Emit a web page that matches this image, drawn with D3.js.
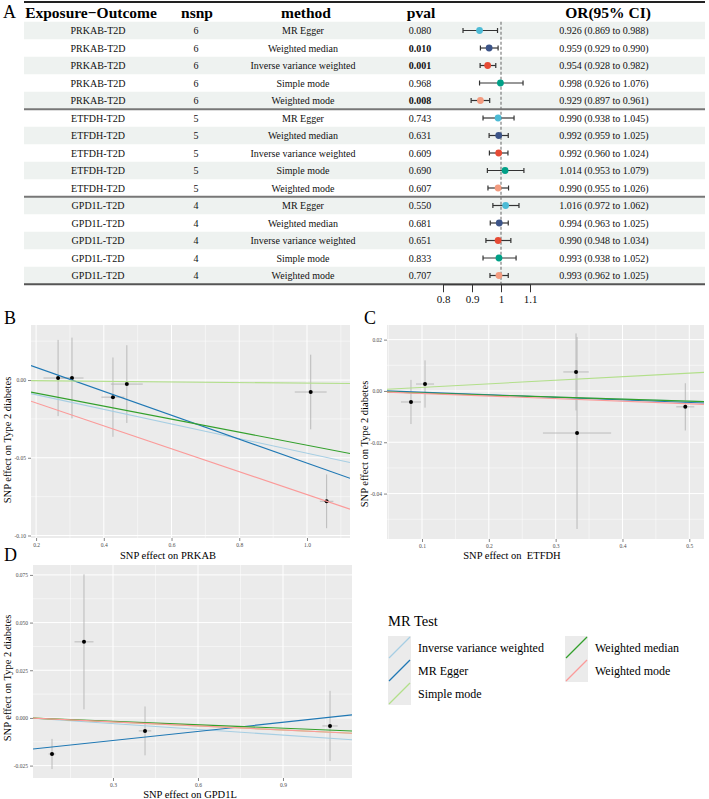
<!DOCTYPE html>
<html>
<head>
<meta charset="utf-8">
<script src="https://cdn.jsdelivr.net/npm/d3@7"></script>
<style>
  body { margin: 0; background: #fff; }
  svg { display: block; font-family: "Liberation Serif", "Times New Roman", serif; }
</style>
</head>
<body>
<svg id="fig" width="709" height="799"></svg>
<script>
'use strict';

// ---- panel A : forest table ----
const exposures = ['PRKAB-T2D', 'PRKAB-T2D', 'PRKAB-T2D', 'PRKAB-T2D', 'PRKAB-T2D',
    'ETFDH-T2D', 'ETFDH-T2D', 'ETFDH-T2D', 'ETFDH-T2D', 'ETFDH-T2D',
    'GPD1L-T2D', 'GPD1L-T2D', 'GPD1L-T2D', 'GPD1L-T2D', 'GPD1L-T2D']
const nsnp = [6, 6, 6, 6, 6, 5, 5, 5, 5, 5, 4, 4, 4, 4, 4]
const methods = ['MR Egger', 'Weighted median', 'Inverse variance weighted', 'Simple mode', 'Weighted mode',
    'MR Egger', 'Weighted median', 'Inverse variance weighted', 'Simple mode', 'Weighted mode',
    'MR Egger', 'Weighted median', 'Inverse variance weighted', 'Simple mode', 'Weighted mode']
const pvals = ['0.080', '0.010', '0.001', '0.968', '0.008',
    '0.743', '0.631', '0.609', '0.690', '0.607',
    '0.550', '0.681', '0.651', '0.833', '0.707']
const orEst = [0.926, 0.959, 0.954, 0.998, 0.929, 0.990, 0.992, 0.992, 1.014, 0.990, 1.016, 0.994, 0.990, 0.993, 0.993]
const orLow = [0.869, 0.929, 0.928, 0.926, 0.897, 0.938, 0.959, 0.960, 0.953, 0.955, 0.972, 0.963, 0.948, 0.938, 0.962]
const orHigh = [0.988, 0.990, 0.982, 1.076, 0.961, 1.045, 1.025, 1.024, 1.079, 1.026, 1.062, 1.025, 1.034, 1.052, 1.025]
const orTicks = [0.8, 0.9, 1, 1.1]
const forestColors = {
    'MR Egger': '#4DBBD5', 'Weighted median': '#3C5488', 'Inverse variance weighted': '#E64B35',
    'Simple mode': '#00A087', 'Weighted mode': '#F39B7F'
}

// ---- panels B-D : scatter plots ----
const mrMethods = ['Inverse variance weighted', 'MR Egger', 'Simple mode', 'Weighted median', 'Weighted mode']
const mrColors = ['#a6cee3', '#1f78b4', '#b2df8a', '#33a02c', '#fb9a99']

const bxB = [0.265, 0.306, 0.427, 0.468, 1.011, 1.058]
const byB = [0.0013, 0.0013, -0.011, -0.0026, -0.0077, -0.078]
const sexB = [0.043, 0.034, 0.034, 0.047, 0.047, 0.02]
const seyB = [0.0245, 0.026, 0.0255, 0.025, 0.024, 0.0173]
const slopeB = [-0.0471, -0.0769, -0.0020, -0.0419, -0.0737]
const icptB = [0, 0.0235, 0, 0, 0]

const bxC = [0.0835, 0.1045, 0.3305, 0.332, 0.494]
const byC = [-0.0043, 0.0027, 0.0074, -0.0164, -0.0062]
const sexC = [0.015, 0.0135, 0.019, 0.051, 0.0135]
const seyC = [0.0086, 0.0092, 0.015, 0.0374, 0.0092]
const slopeC = [-0.0080, -0.0100, 0.0139, -0.0080, -0.0100]
const icptC = [0, 0.0005, 0, 0, 0]

const bxD = [0.0847, 0.1976, 0.413, 1.066]
const byD = [-0.0189, 0.0399, -0.0068, -0.0042]
const sexD = [0.012, 0.0335, 0.022, 0.027]
const seyD = [0.0079, 0.0354, 0.0128, 0.0184]
const slopeD = [-0.0100, 0.0159, -0.0070, -0.0060, -0.0070]
const icptD = [0, -0.0166, 0, 0, 0]

const svg = d3.select('#fig')

function drawForest() {
    let tblL = 24, tblR = 705, rowH = 17.5, row0 = 30.5
    let rowY = i => row0 + i * rowH
    let n = methods.length

    let g = svg.append('g')

    g.selectAll('rect.band')
        .data(d3.range(n).filter(i => i % 2 === 0))
        .enter().append('rect')
        .attr('x', tblL).attr('width', tblR - tblL)
        .attr('y', i => rowY(i) - rowH / 2).attr('height', rowH)
        .attr('fill', '#eef2f0')

    // header
    let header = [
        { t: 'Exposure\u2212Outcome', x: 91 },
        { t: 'nsnp', x: 197 },
        { t: 'method', x: 306 },
        { t: 'pval', x: 421 },
        { t: 'OR(95% CI)', x: 608 }
    ]
    g.selectAll('text.head').data(header).enter().append('text')
        .attr('x', d => d.x).attr('y', 12.5).attr('dy', '0.35em')
        .attr('text-anchor', 'middle').attr('font-size', '15.5px').attr('font-weight', 'bold')
        .text(d => d.t)

    let rows = d3.range(n)
    let cell = (cls, x, fn) => g.selectAll('text.' + cls).data(rows).enter().append('text')
        .attr('class', cls)
        .attr('x', x).attr('y', i => rowY(i)).attr('dy', '0.35em')
        .attr('text-anchor', 'middle').attr('font-size', '10px').attr('fill', '#111')
        .text(fn)

    cell('expo', 98, i => exposures[i])
    cell('nsnp', 196, i => nsnp[i])
    cell('meth', 303, i => methods[i])
    cell('pv', 420, i => pvals[i]).attr('font-weight', i => +pvals[i] < 0.05 ? 'bold' : null)
    cell('ci', 604, i => `${orEst[i].toFixed(3)} (${orLow[i].toFixed(3)} to ${orHigh[i].toFixed(3)})`)

    // forest
    let fx = d3.scaleLinear().domain([0.8, 1.1]).range([443, 530])

    g.append('line')
        .attr('x1', fx(1)).attr('x2', fx(1))
        .attr('y1', rowY(0) - rowH / 2).attr('y2', rowY(n - 1) + rowH / 2)
        .attr('stroke', '#555').attr('stroke-width', 0.9).attr('stroke-dasharray', '3,2')

    let ci = g.selectAll('g.ci').data(rows).enter().append('g')
        .attr('transform', i => `translate(0,${rowY(i)})`)
    ci.append('line')
        .attr('x1', i => fx(orLow[i])).attr('x2', i => fx(orHigh[i]))
        .attr('stroke', '#333').attr('stroke-width', 1.2)
    ci.append('line')
        .attr('x1', i => fx(orLow[i])).attr('x2', i => fx(orLow[i]))
        .attr('y1', -2.5).attr('y2', 2.5).attr('stroke', '#333').attr('stroke-width', 1.2)
    ci.append('line')
        .attr('x1', i => fx(orHigh[i])).attr('x2', i => fx(orHigh[i]))
        .attr('y1', -2.5).attr('y2', 2.5).attr('stroke', '#333').attr('stroke-width', 1.2)
    ci.append('circle')
        .attr('cx', i => fx(orEst[i])).attr('r', 3.4)
        .attr('fill', i => forestColors[methods[i]])

    // lines of the table
    g.append('line').attr('x1', tblL).attr('x2', tblR).attr('y1', 2).attr('y2', 2)
        .attr('stroke', '#222').attr('stroke-width', 2)
    rows.filter(i => i < n - 1 && exposures[i] !== exposures[i + 1]).forEach(i => {
        g.append('line').attr('x1', tblL).attr('x2', tblR)
            .attr('y1', rowY(i) + rowH / 2).attr('y2', rowY(i) + rowH / 2)
            .attr('stroke', '#777').attr('stroke-width', 2)
    })
    let yBottom = rowY(n - 1) + rowH / 2
    g.append('line').attr('x1', tblL).attr('x2', tblR).attr('y1', yBottom).attr('y2', yBottom)
        .attr('stroke', '#555').attr('stroke-width', 2)

    let ax = g.append('g').attr('transform', `translate(0,${yBottom})`)
        .call(d3.axisBottom(fx).tickValues(orTicks).tickFormat(d3.format('')).tickSize(8).tickSizeOuter(0))
    ax.select('.domain').attr('stroke', '#333')
    ax.selectAll('.tick line').attr('stroke', '#333')
    ax.selectAll('text').attr('font-size', '11px').attr('font-family', '"Liberation Serif", serif').attr('fill', '#111')

    svg.append('text').attr('x', 3).attr('y', 12).attr('dy', '0.35em')
        .attr('font-size', '18px').text('A')
}

function drawScatter(p) {
    let [x0, y0, x1, y1] = p.box
    let x = d3.scaleLinear().domain(p.xd).range([x0, x1])
    let y = d3.scaleLinear().domain(p.yd).range([y1, y0])
    let g = svg.append('g')

    let clipId = 'clip' + p.key
    g.append('clipPath').attr('id', clipId)
        .append('rect').attr('x', x0).attr('y', y0).attr('width', x1 - x0).attr('height', y1 - y0)

    g.append('rect').attr('x', x0).attr('y', y0).attr('width', x1 - x0).attr('height', y1 - y0)
        .attr('fill', '#ebebeb')

    let grid = g.append('g').attr('clip-path', `url(#${clipId})`)
    p.xm.forEach(v => grid.append('line').attr('x1', x(v)).attr('x2', x(v)).attr('y1', y0).attr('y2', y1)
        .attr('stroke', '#fff').attr('stroke-width', 0.5))
    p.ym.forEach(v => grid.append('line').attr('y1', y(v)).attr('y2', y(v)).attr('x1', x0).attr('x2', x1)
        .attr('stroke', '#fff').attr('stroke-width', 0.5))
    p.xt.forEach(v => grid.append('line').attr('x1', x(v)).attr('x2', x(v)).attr('y1', y0).attr('y2', y1)
        .attr('stroke', '#fff').attr('stroke-width', 1))
    p.yt.forEach(v => grid.append('line').attr('y1', y(v)).attr('y2', y(v)).attr('x1', x0).attr('x2', x1)
        .attr('stroke', '#fff').attr('stroke-width', 1))

    let idx = d3.range(p.bx.length)
    let marks = g.append('g').attr('clip-path', `url(#${clipId})`)
    marks.selectAll('line.ev').data(idx).enter().append('line')
        .attr('x1', i => x(p.bx[i])).attr('x2', i => x(p.bx[i]))
        .attr('y1', i => y(p.by[i] - p.sey[i])).attr('y2', i => y(p.by[i] + p.sey[i]))
        .attr('stroke', '#b4b4b4').attr('stroke-width', 0.9)
    marks.selectAll('line.eh').data(idx).enter().append('line')
        .attr('x1', i => x(p.bx[i] - p.sex[i])).attr('x2', i => x(p.bx[i] + p.sex[i]))
        .attr('y1', i => y(p.by[i])).attr('y2', i => y(p.by[i]))
        .attr('stroke', '#b4b4b4').attr('stroke-width', 0.9)
    marks.selectAll('circle').data(idx).enter().append('circle')
        .attr('cx', i => x(p.bx[i])).attr('cy', i => y(p.by[i])).attr('r', 2)
        .attr('fill', '#000')

    // abline for every method
    marks.selectAll('line.fit').data(mrMethods).enter().append('line')
        .attr('x1', x0).attr('x2', x1)
        .attr('y1', (d, k) => y(p.icpt[k] + p.slope[k] * p.xd[0]))
        .attr('y2', (d, k) => y(p.icpt[k] + p.slope[k] * p.xd[1]))
        .attr('stroke', (d, k) => mrColors[k]).attr('stroke-width', 1.1)

    let styleAxis = a => {
        a.select('.domain').remove()
        a.selectAll('.tick line').attr('stroke', '#333').attr('stroke-width', 0.6)
        a.selectAll('text').attr('font-size', '5.5px').attr('fill', '#4d4d4d')
            .attr('font-family', '"Liberation Serif", serif')
    }
    g.append('g').attr('transform', `translate(0,${y1})`)
        .call(d3.axisBottom(x).tickValues(p.xt).tickFormat(d => d.toFixed(p.xdig)).tickSize(3).tickPadding(2))
        .call(styleAxis)
    g.append('g').attr('transform', `translate(${x0},0)`)
        .call(d3.axisLeft(y).tickValues(p.yt).tickFormat(d => d.toFixed(p.ydig)).tickSize(3).tickPadding(2))
        .call(styleAxis)

    svg.append('text').attr('x', p.xTitle[0]).attr('y', p.xTitle[1]).attr('dy', '0.35em')
        .attr('text-anchor', 'middle').attr('font-size', '10.5px').attr('xml:space', 'preserve')
        .text('SNP effect on ' + p.gene)
    svg.append('text')
        .attr('transform', `translate(${p.yTitle[0]},${p.yTitle[1]}) rotate(-90)`)
        .attr('dy', '0.35em').attr('text-anchor', 'middle').attr('font-size', '10.5px')
        .text('SNP effect on Type 2 diabetes')
    svg.append('text').attr('x', p.label[0]).attr('y', p.label[1]).attr('dy', '0.35em')
        .attr('font-size', '18px').text(p.key)
}

function drawLegend() {
    let g = svg.append('g')
    g.append('text').attr('x', 388).attr('y', 621).attr('dy', '0.35em')
        .attr('font-size', '14.5px').text('MR Test')
    let key = 23
    let pos = mrMethods.map((m, k) => ({ m: m, k: k, col: k < 3 ? 0 : 1, row: k < 3 ? k : k - 3 }))
    let item = g.selectAll('g.item').data(pos).enter().append('g')
        .attr('transform', d => `translate(${d.col ? 565 : 388},${636 + d.row * key})`)
    item.append('rect').attr('width', key).attr('height', key).attr('fill', '#ebebeb')
    item.append('line').attr('x1', 1).attr('y1', key - 1).attr('x2', key - 1).attr('y2', 1)
        .attr('stroke', d => mrColors[d.k]).attr('stroke-width', 1.3)
    item.append('text').attr('x', key + 7).attr('y', key / 2).attr('dy', '0.35em')
        .attr('font-size', '12px').text(d => d.m)
}

drawForest()

drawScatter({
    key: 'B', gene: 'PRKAB', bx: bxB, by: byB, sex: sexB, sey: seyB, slope: slopeB, icpt: icptB,
    box: [31, 325, 350, 538], xd: [0.185, 1.127], yd: [-0.1016, 0.0354],
    xt: [0.2, 0.4, 0.6, 0.8, 1.0], xm: [0.3, 0.5, 0.7, 0.9, 1.1],
    yt: [0, -0.05, -0.10], ym: [0.025, -0.025, -0.075], xdig: 1, ydig: 2,
    label: [4, 318], xTitle: [168, 555], yTitle: [7, 440]
})
drawScatter({
    key: 'C', gene: ' ETFDH', bx: bxC, by: byC, sex: sexC, sey: seyC, slope: slopeC, icpt: icptC,
    box: [387, 325, 704, 539], xd: [0.0476, 0.522], yd: [-0.0577, 0.0257],
    xt: [0.1, 0.2, 0.3, 0.4, 0.5], xm: [0.05, 0.15, 0.25, 0.35, 0.45],
    yt: [0.02, 0, -0.02, -0.04], ym: [0.01, -0.01, -0.03, -0.05], xdig: 1, ydig: 2,
    label: [364, 318], xTitle: [512, 555], yTitle: [364, 444]
})
drawScatter({
    key: 'D', gene: 'GPD1L', bx: bxD, by: byD, sex: sexD, sey: seyD, slope: slopeD, icpt: icptD,
    box: [33, 565, 352, 778], xd: [0.0176, 1.1436], yd: [-0.0315, 0.0802],
    xt: [0.3, 0.6, 0.9], xm: [0.15, 0.45, 0.75, 1.05],
    yt: [0.075, 0.05, 0.025, 0, -0.025], ym: [0.0625, 0.0375, 0.0125, -0.0125], xdig: 1, ydig: 3,
    label: [4, 555], xTitle: [190, 794], yTitle: [7, 678]
})

drawLegend()
</script>
</body>
</html>
